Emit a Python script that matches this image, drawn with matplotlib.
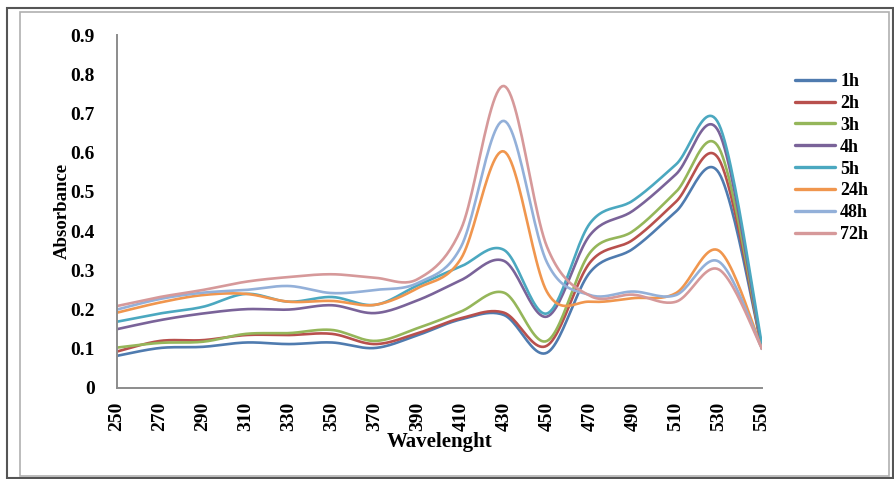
import numpy as np
import matplotlib
matplotlib.use("Agg")
import matplotlib.pyplot as plt
from matplotlib.patches import Rectangle

# longueurs d'onde (nm) et absorbances
wavelength = [250, 270, 290, 310, 330, 350, 370, 390, 410, 430, 450, 470, 490, 510, 530, 550]

a_1h = [0.082, 0.102, 0.105, 0.116, 0.112, 0.116, 0.102, 0.135, 0.175, 0.186, 0.090, 0.295, 0.355, 0.450, 0.548, 0.10]
a_2h = [0.093, 0.120, 0.122, 0.135, 0.135, 0.138, 0.112, 0.140, 0.178, 0.192, 0.108, 0.320, 0.378, 0.475, 0.583, 0.10]
a_3h = [0.103, 0.115, 0.118, 0.138, 0.140, 0.148, 0.120, 0.153, 0.195, 0.243, 0.120, 0.345, 0.400, 0.500, 0.612, 0.10]
a_4h = [0.150, 0.173, 0.190, 0.201, 0.200, 0.211, 0.191, 0.224, 0.275, 0.324, 0.182, 0.390, 0.452, 0.545, 0.652, 0.10]
a_5h = [0.169, 0.190, 0.207, 0.240, 0.220, 0.232, 0.212, 0.262, 0.310, 0.352, 0.190, 0.420, 0.478, 0.570, 0.672, 0.11]
a_24h = [0.192, 0.218, 0.237, 0.240, 0.220, 0.222, 0.212, 0.255, 0.330, 0.603, 0.245, 0.220, 0.229, 0.242, 0.350, 0.10]
a_48h = [0.200, 0.227, 0.243, 0.250, 0.260, 0.242, 0.250, 0.268, 0.360, 0.681, 0.320, 0.237, 0.246, 0.237, 0.322, 0.10]
a_72h = [0.209, 0.232, 0.250, 0.271, 0.283, 0.290, 0.281, 0.278, 0.405, 0.770, 0.360, 0.235, 0.238, 0.220, 0.302, 0.10]

labels = ["1h", "2h", "3h", "4h", "5h", "24h", "48h", "72h"]
series = [a_1h, a_2h, a_3h, a_4h, a_5h, a_24h, a_48h, a_72h]
colors = ["#4F7BAF", "#B8504D", "#95B65A", "#7A6399", "#4BA8C0", "#F0964E", "#93B0D9", "#D6999A"]


def lisse(x, y, n=25):
    """courbe lissee facon Excel (Bezier / Catmull-Rom)"""
    x = np.asarray(x, float)
    y = np.asarray(y, float)
    px = np.concatenate([[x[0]], x, [x[-1]]])
    py = np.concatenate([[y[0]], y, [y[-1]]])
    t = np.linspace(0, 1, n)
    X, Y = [], []
    for i in range(len(x) - 1):
        x0, x1, x2, x3 = px[i], px[i+1], px[i+2], px[i+3]
        y0, y1, y2, y3 = py[i], py[i+1], py[i+2], py[i+3]
        cx1, cy1 = x1 + (x2 - x0)/6, y1 + (y2 - y0)/6
        cx2, cy2 = x2 - (x3 - x1)/6, y2 - (y3 - y1)/6
        bx = (1-t)**3*x1 + 3*(1-t)**2*t*cx1 + 3*(1-t)*t**2*cx2 + t**3*x2
        by = (1-t)**3*y1 + 3*(1-t)**2*t*cy1 + 3*(1-t)*t**2*cy2 + t**3*y2
        X += list(bx)
        Y += list(by)
    return np.array(X), np.array(Y)


plt.rcParams['font.family'] = ['Liberation Serif', 'DejaVu Serif']

fig = plt.figure(figsize=(8.95, 4.79), dpi=100)
ax = fig.add_axes([117/895, 1-388/479, (762-117)/895, (388-35)/479])

for y, lab, c in zip(series, labels, colors):
    sx, sy = lisse(wavelength, y)
    ax.plot(sx, sy, color=c, lw=1.9, label=lab, solid_capstyle='round')

ax.set_xlim(250, 550)
ax.set_ylim(0, 0.9)
ax.set_xticks(wavelength)
ax.set_xticklabels([str(w) for w in wavelength], rotation=90, fontweight='bold', fontsize=14)
yt = [0, 0.1, 0.2, 0.3, 0.4, 0.5, 0.6, 0.7, 0.8, 0.9]
ax.set_yticks(yt)
ax.set_yticklabels(["0"] + ["%.1f" % v for v in yt[1:]], fontweight='bold', fontsize=14)
ax.tick_params(axis='y', length=0, pad=16)
ax.tick_params(axis='x', length=0, pad=10)
for s in ['top', 'right']:
    ax.spines[s].set_visible(False)
for s in ['left', 'bottom']:
    ax.spines[s].set_color('#8c8c8c')
    ax.spines[s].set_linewidth(1.4)

fig.text(439.5/895, 1-442/479, "Wavelenght", ha='center', va='center', fontsize=15, fontweight='bold')
fig.text(62/895, 1-211/479, "Absorbance", ha='center', va='center', rotation=90, fontsize=13.5, fontweight='bold')

fig.legend(loc='upper left', bbox_to_anchor=(795/895, 1-73/479), frameon=False,
           prop={'size': 13, 'weight': 'bold'},
           borderaxespad=0, borderpad=0, handlelength=2.2, handletextpad=0.3, labelspacing=0.27)
for leg_line in fig.legends[0].get_lines():
    leg_line.set_linewidth(2.4)

# cadres autour de la figure
fig.add_artist(Rectangle((7/895, 1-478/479), 886/895, 470/479, transform=fig.transFigure,
                         fill=False, edgecolor='#555555', lw=1.5))
fig.add_artist(Rectangle((20/895, 1-476/479), 869/895, 464/479, transform=fig.transFigure,
                         fill=False, edgecolor='#b0b0b0', lw=1.2))

fig.savefig("out.png", dpi=100)
